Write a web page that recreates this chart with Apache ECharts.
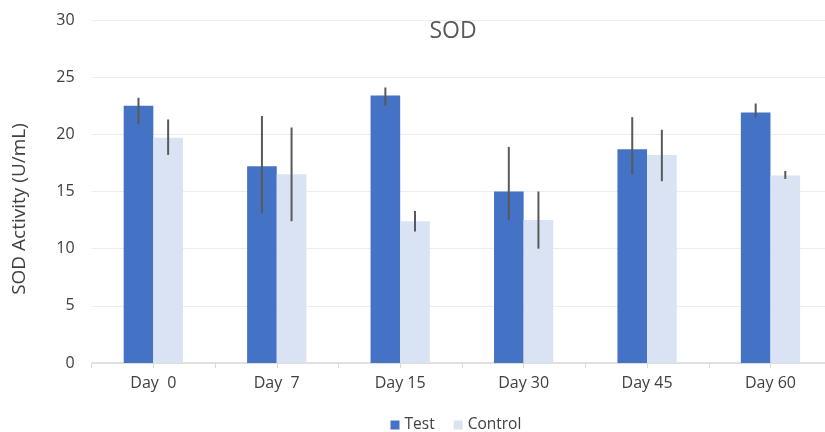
<!DOCTYPE html>
<html>
<head>
<meta charset="utf-8">
<script src="https://cdn.jsdelivr.net/npm/echarts@6/dist/echarts.min.js"></script>
<style>html,body{margin:0;padding:0;background:#fff;}#c{width:825px;height:432px;}</style>
</head>
<body>
<div id="c"></div>
<script>
const categories = ['Day  0', 'Day  7', 'Day 15', 'Day 30', 'Day 45', 'Day 60'];
const testValues = [22.5, 17.2, 23.4, 15.0, 18.7, 21.9];
const controlValues = [19.7, 16.5, 12.4, 12.5, 18.2, 16.4];
const testErrLow = [20.9, 13.1, 22.5, 12.5, 16.5, 21.5];
const testErrHigh = [23.2, 21.6, 24.1, 18.9, 21.5, 22.7];
const controlErrLow = [18.2, 12.4, 11.5, 10.0, 15.9, 16.1];
const controlErrHigh = [21.3, 20.6, 13.3, 15.0, 20.4, 16.8];
const yTicks = [0, 5, 10, 15, 20, 25, 30];
const yAxisTitle = 'SOD Activity (U/mL)';

const FONT = '"Open Sans", sans-serif';
const CAT_GAP = 0.52;

function errSeries(low, high, side) {
  return {
    type: 'custom',
    z: 10,
    silent: true,
    data: low.map((l, i) => [i, l, high[i]]),
    encode: { x: 0, y: [1, 2] },
    renderItem: function (params, api) {
      const cw = api.size([1, 0])[0];
      const bw = cw * (1 - CAT_GAP) / 2;
      const off = side * bw / 2;
      const p1 = api.coord([api.value(0), api.value(1)]);
      const p2 = api.coord([api.value(0), api.value(2)]);
      return {
        type: 'line',
        shape: { x1: p1[0] + off, y1: p1[1], x2: p2[0] + off, y2: p2[1] },
        style: { stroke: '#595959', lineWidth: 2 }
      };
    }
  };
}

const chart = echarts.init(document.getElementById('c'));
chart.setOption({
  animation: false,
  title: {
    text: 'SOD', left: 448, top: 15, textAlign: 'center',
    textStyle: { fontFamily: FONT, fontSize: 23, fontWeight: 'normal', color: '#595959' }
  },
  legend: {
    data: ['Test', 'Control'], left: 390.5, top: 417, padding: 0,
    icon: 'rect', itemWidth: 9, itemHeight: 9, itemGap: 19, itemTextGap: 4,
    textStyle: { fontFamily: FONT, fontSize: 15.5, color: '#404040' }
  },
  graphic: [{
    type: 'text', x: 20, y: 209, rotation: Math.PI / 2,
    style: { text: yAxisTitle, fontFamily: FONT, fontSize: 19, fill: '#404040',
             align: 'center', verticalAlign: 'middle' }
  }],
  grid: { left: 91.6, top: 20, width: 740.6, height: 343, containLabel: false, outerBoundsMode: 'none' },
  xAxis: [{
    type: 'category', data: categories,
    axisLine: { lineStyle: { color: '#D9D9D9', width: 1.5 } },
    axisTick: { show: true, length: 5, lineStyle: { color: '#D9D9D9' } },
    axisLabel: { fontFamily: FONT, fontSize: 16, color: '#404040', margin: 12 }
  }, {
    type: 'category', data: categories, position: 'bottom',
    axisLine: { show: false },
    axisTick: { show: true, alignWithLabel: true, length: 5, lineStyle: { color: '#D9D9D9' } },
    axisLabel: { show: false }
  }],
  yAxis: {
    type: 'value', min: yTicks[0], max: yTicks[yTicks.length - 1], interval: 5,
    axisLine: { show: false }, axisTick: { show: false },
    axisLabel: { fontFamily: FONT, fontSize: 16, color: '#404040', margin: 17 },
    splitLine: { lineStyle: { color: '#EDEDED', width: 1 } }
  },
  series: [
    { name: 'Test', type: 'bar', data: testValues, barGap: '0%', barCategoryGap: '52%',
      itemStyle: { color: '#4472C4' } },
    { name: 'Control', type: 'bar', data: controlValues, barGap: '0%', barCategoryGap: '52%',
      itemStyle: { color: '#DAE3F3' } },
    errSeries(testErrLow, testErrHigh, -1),
    errSeries(controlErrLow, controlErrHigh, 1)
  ]
});
</script>
</body>
</html>
